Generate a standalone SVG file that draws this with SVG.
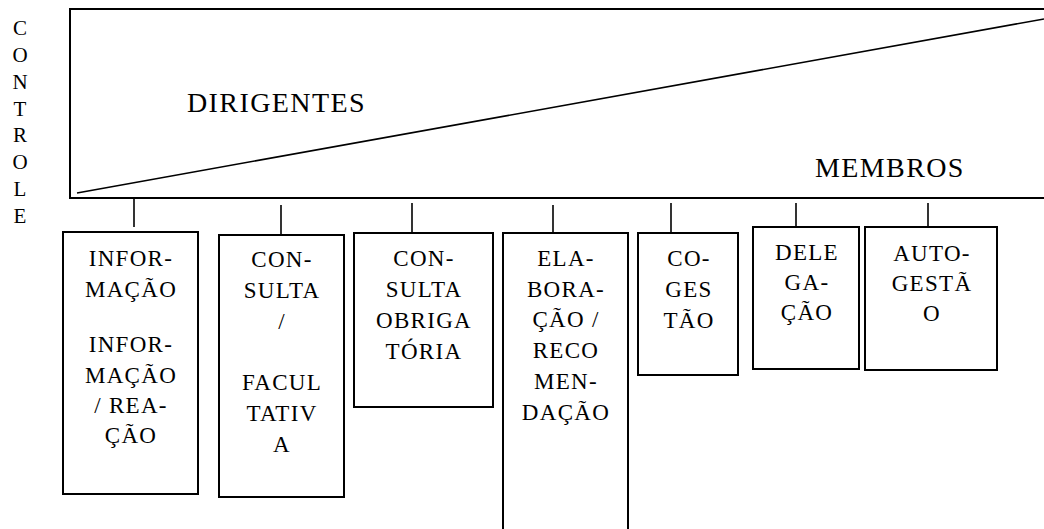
<svg xmlns="http://www.w3.org/2000/svg" width="1044" height="529" viewBox="0 0 1044 529" font-family="Liberation Serif, Times New Roman, serif">
<style>
.big{font-size:28px;letter-spacing:1.4px}
.side{font-size:21px;text-anchor:middle}
.lbl{font-size:23px;letter-spacing:1.3px;text-anchor:middle}
.box{fill:#fff;stroke:#000;stroke-width:2}
.frame{fill:#fff;stroke:#000;stroke-width:2}
.conn line{stroke:#000;stroke-width:1.6}
</style>
<rect width="1044" height="529" fill="#fff"/>
<g id="controle">
<text class="side" x="20" y="35">C</text>
<text class="side" x="20" y="62">O</text>
<text class="side" x="20" y="89">N</text>
<text class="side" x="20" y="116">T</text>
<text class="side" x="20" y="142">R</text>
<text class="side" x="20" y="169">O</text>
<text class="side" x="20" y="196">L</text>
<text class="side" x="20" y="223">E</text>
</g>
<g id="hierarquia">
<rect class="frame" x="70" y="9" width="990" height="189"/>
<line x1="77" y1="193" x2="1044" y2="19" stroke="#000" stroke-width="1.6"/>
<text class="big" x="187" y="112">DIRIGENTES</text>
<text class="big" x="815" y="177">MEMBROS</text>
</g>
<g id="connectors" class="conn">
<line x1="134" y1="198" x2="134" y2="227"/>
<line x1="281" y1="205" x2="281" y2="235"/>
<line x1="412" y1="203" x2="412" y2="233"/>
<line x1="553" y1="205" x2="553" y2="233"/>
<line x1="671" y1="203" x2="671" y2="233"/>
<line x1="796" y1="203" x2="796" y2="232"/>
<line x1="928" y1="203" x2="928" y2="232"/>
</g>
<g id="informacao">
<rect class="box" x="63" y="232" width="135" height="262"/>
<text class="lbl" x="131" y="266">INFOR-</text>
<text class="lbl" x="131" y="297">MAÇÃO</text>
<text class="lbl" x="131" y="352">INFOR-</text>
<text class="lbl" x="131" y="383">MAÇÃO</text>
<text class="lbl" x="131" y="413">/ REA-</text>
<text class="lbl" x="131" y="443">ÇÃO</text>
</g>
<g id="consulta-facultativa">
<rect class="box" x="219" y="235" width="125" height="262"/>
<text class="lbl" x="282" y="267">CON-</text>
<text class="lbl" x="282" y="298">SULTA</text>
<text class="lbl" x="282" y="329">/</text>
<text class="lbl" x="282" y="390">FACUL</text>
<text class="lbl" x="282" y="421">TATIV</text>
<text class="lbl" x="282" y="452">A</text>
</g>
<g id="consulta-obrigatoria">
<rect class="box" x="354" y="233" width="139" height="174"/>
<text class="lbl" x="424" y="266">CON-</text>
<text class="lbl" x="424" y="297">SULTA</text>
<text class="lbl" x="424" y="328">OBRIGA</text>
<text class="lbl" x="424" y="359">TÓRIA</text>
</g>
<g id="elaboracao">
<rect class="box" x="503" y="233" width="125" height="310"/>
<text class="lbl" x="566" y="266">ELA-</text>
<text class="lbl" x="566" y="297">BORA-</text>
<text class="lbl" x="566" y="327">ÇÃO /</text>
<text class="lbl" x="566" y="358">RECO</text>
<text class="lbl" x="566" y="389">MEN-</text>
<text class="lbl" x="566" y="420">DAÇÃO</text>
</g>
<g id="cogestao">
<rect class="box" x="638" y="233" width="100" height="142"/>
<text class="lbl" x="689" y="266">CO-</text>
<text class="lbl" x="689" y="297">GES</text>
<text class="lbl" x="689" y="328">TÃO</text>
</g>
<g id="delegacao">
<rect class="box" x="753" y="227" width="106" height="142"/>
<text class="lbl" x="807" y="260">DELE</text>
<text class="lbl" x="807" y="290">GA-</text>
<text class="lbl" x="807" y="320">ÇÃO</text>
</g>
<g id="autogestao">
<rect class="box" x="865" y="227" width="132" height="143"/>
<text class="lbl" x="932" y="261">AUTO-</text>
<text class="lbl" x="932" y="291">GESTÃ</text>
<text class="lbl" x="932" y="321">O</text>
</g>
</svg>
